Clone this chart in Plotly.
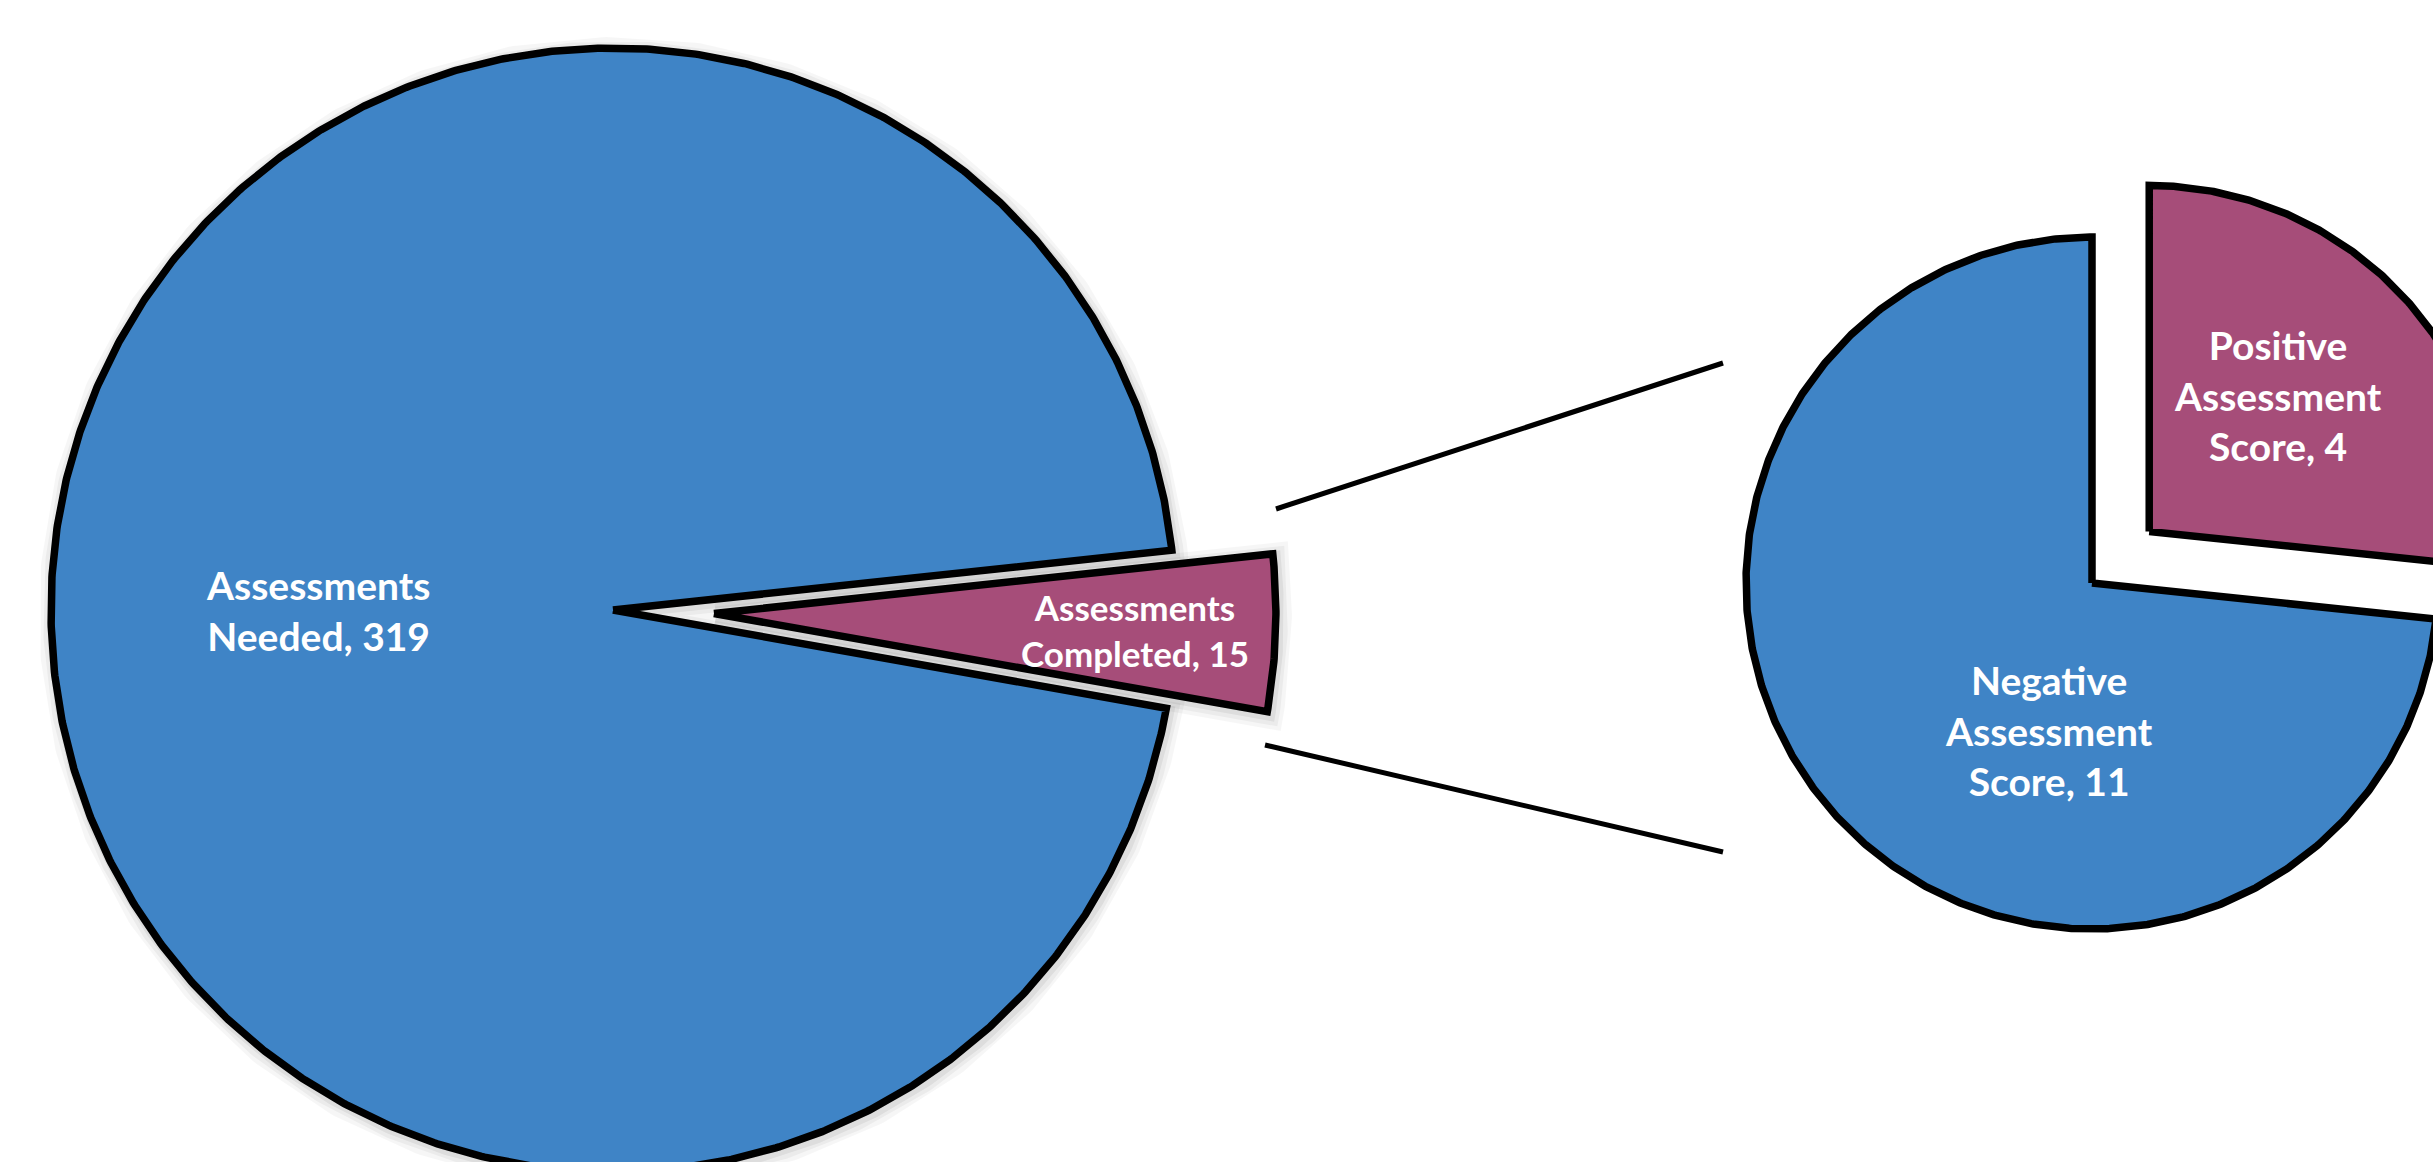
import numpy as np
import plotly.graph_objects as go

# ---------------- data ----------------
main_labels = ["Assessments Needed", "Assessments Completed"]
main_values = [319, 15]
detail_labels = ["Negative Assessment Score", "Positive Assessment Score"]
detail_values = [11, 4]

# ---------------- layout / style ----------------
W, H = 2433, 1162
BLUE = "#3F84C6"
PURPLE = "#A64D79"
SLICE_COLORS = [BLUE, PURPLE]
OUTLINE = 7.5
FONT = "Lato"

# pie geometry (canvas units = pixels): centre, radius, start angle (deg, ccw), pull (px)
MAIN = dict(cx=613, cy=610, r=562, start=6.1, pull=[0, 101], shadow=True,
            label_pos=[(0.525, 2.0, 39), (0.75, -0.2, 35)])
DETAIL = dict(cx=2092, cy=583, r=346, start=90.0, pull=[0, 77], shadow=False,
              label_pos=[(0.445, 31.8, 39), (0.542, 4.7, 39)])

# connector lines between the two pies
CONNECTORS = [((1276, 509), (1723, 363)), ((1265, 745), (1723, 852))]


def slice_geometry(values, geo):
    total = float(sum(values))
    a = geo["start"]
    out = []
    for i, v in enumerate(values):
        span = v / total * 360.0
        a0, a1 = a, a + span
        mid = np.radians((a0 + a1) / 2)
        p = geo["pull"][i]
        ax = geo["cx"] + p * np.cos(mid)
        ay = geo["cy"] - p * np.sin(mid)
        th = np.radians(np.linspace(a0, a1, max(int(span * 3), 12)))
        xs = np.concatenate([[ax], ax + geo["r"] * np.cos(th), [ax]])
        ys = np.concatenate([[ay], ay - geo["r"] * np.sin(th), [ay]])
        out.append(dict(x=xs, y=ys, apex=(ax, ay), mid=(a0 + a1) / 2))
        a = a1
    return out


def label_text(label, value):
    words = label.split(" ")
    return "<b>" + "<br>".join(words) + f", {value}</b>"


fig = go.Figure()
annotations = []

for labels, values, geo in [(main_labels, main_values, MAIN),
                            (detail_labels, detail_values, DETAIL)]:
    geom = slice_geometry(values, geo)
    if geo["shadow"]:
        for w, alpha in [(28, 0.035), (20, 0.045), (12, 0.06)]:
            for g in geom:
                fig.add_trace(go.Scatter(
                    x=g["x"] + 2, y=g["y"] + 3, mode="lines", fill="toself",
                    fillcolor=f"rgba(0,0,0,{alpha})",
                    line=dict(color=f"rgba(0,0,0,{alpha})", width=w),
                    hoverinfo="skip", showlegend=False))
    for i, g in enumerate(geom):
        fig.add_trace(go.Scatter(
            x=g["x"], y=g["y"], mode="lines", fill="toself",
            fillcolor=SLICE_COLORS[i],
            line=dict(color="black", width=OUTLINE),
            name=labels[i], text=f"{labels[i]}: {values[i]}",
            hoverinfo="text", hoveron="fills", showlegend=False))
        frac, nudge, fsize = geo["label_pos"][i]
        ang = np.radians(g["mid"] + nudge)
        lx = g["apex"][0] + frac * geo["r"] * np.cos(ang)
        ly = g["apex"][1] - frac * geo["r"] * np.sin(ang)
        annotations.append(dict(
            x=lx, y=ly, xref="x", yref="y", text=label_text(labels[i], values[i]),
            showarrow=False, xanchor="center", yanchor="middle", align="center",
            font=dict(family=FONT, size=fsize, color="white")))

shapes = [dict(type="line", xref="x", yref="y", x0=p0[0], y0=p0[1], x1=p1[0], y1=p1[1],
               line=dict(color="black", width=5)) for p0, p1 in CONNECTORS]

fig.update_layout(
    width=W, height=H,
    margin=dict(l=0, r=0, t=0, b=0),
    paper_bgcolor="white", plot_bgcolor="white",
    xaxis=dict(range=[0, W], visible=False, fixedrange=True),
    yaxis=dict(range=[H, 0], visible=False, fixedrange=True),
    annotations=annotations, shapes=shapes,
    showlegend=False,
)

fig.write_html(
    "out.html",
    config={"displayModeBar": False},
    post_script="document.body.style.margin='0px';document.body.style.overflow='hidden';",
)
